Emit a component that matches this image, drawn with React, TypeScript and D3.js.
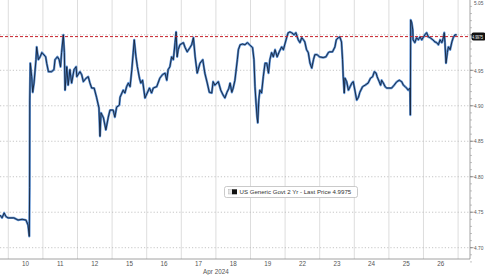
import React from "react";
import * as d3 from "d3";

// time in trading-day units (0 = start of Apr 10 session), yield in %
const times: number[] = [
  -0.24, -0.18, -0.12, -0.07, -0.01,
  0.05, 0.16, 0.28, 0.40, 0.51, 0.57, 0.607, 0.616, 0.621, 0.636, 0.676, 0.705, 0.743, 0.80, 0.82, 0.87, 0.92, 0.97,
  1.08, 1.11, 1.16, 1.25, 1.32, 1.35, 1.42, 1.47, 1.51, 1.54, 1.59, 1.62, 1.64, 1.69, 1.73, 1.78, 1.83, 1.90, 1.96, 1.98,
  2.07, 2.12, 2.17, 2.25, 2.31, 2.36, 2.41, 2.48, 2.55, 2.62, 2.65, 2.68, 2.75, 2.82, 2.89, 2.94,
  3.03, 3.08, 3.13, 3.21, 3.23, 3.32, 3.37, 3.42, 3.47, 3.52, 3.57, 3.61, 3.64, 3.69, 3.73, 3.79, 3.83, 3.88, 3.95,
  4.08, 4.14, 4.19, 4.29, 4.38, 4.46, 4.53, 4.58, 4.62, 4.67, 4.72, 4.77, 4.82, 4.85, 4.88, 4.91, 4.96,
  5.06, 5.11, 5.17, 5.25, 5.30, 5.35, 5.40, 5.46, 5.54, 5.62, 5.68, 5.75, 5.81, 5.88, 5.92, 5.97,
  6.07, 6.14, 6.21, 6.26, 6.32, 6.37, 6.41, 6.46, 6.50, 6.55, 6.62, 6.65, 6.70, 6.77, 6.84, 6.91, 6.97,
  7.06, 7.10, 7.13, 7.16, 7.19, 7.21, 7.24, 7.27, 7.32, 7.37, 7.42, 7.47, 7.52, 7.56, 7.61, 7.66, 7.71, 7.77, 7.83, 7.90, 7.95,
  8.05, 8.09, 8.14, 8.19, 8.26, 8.31, 8.38, 8.43, 8.48, 8.53, 8.57, 8.62, 8.67, 8.72, 8.77, 8.82, 8.86, 8.93, 8.99,
  9.10, 9.18, 9.25, 9.29, 9.37, 9.44, 9.48, 9.54, 9.58, 9.63, 9.66, 9.68, 9.71, 9.73, 9.78, 9.83, 9.88, 9.93, 9.97,
  10.07, 10.12, 10.16, 10.24, 10.31, 10.40, 10.47, 10.53, 10.58, 10.63, 10.66, 10.72, 10.76, 10.79, 10.84, 10.89, 10.94,
  11.08, 11.15, 11.23, 11.30, 11.37, 11.42, 11.47, 11.51, 11.56, 11.61, 11.62, 11.63, 11.66, 11.69, 11.70, 11.75, 11.80, 11.85, 11.90, 11.95,
  12.04, 12.09, 12.14, 12.19, 12.27, 12.33, 12.38, 12.43, 12.48, 12.53, 12.58, 12.60, 12.62, 12.65, 12.69, 12.72, 12.77, 12.82, 12.86, 12.91, 12.96,
];

const yields: number[] = [
  4.746, 4.742, 4.749, 4.744, 4.742,
  4.742, 4.742, 4.739, 4.740, 4.739, 4.732, 4.716, 4.785, 4.908, 4.960, 4.941, 4.919, 4.932, 4.965, 4.983, 4.965, 4.969, 4.975,
  4.969, 4.960, 4.948, 4.948, 4.951, 4.965, 4.969, 4.965, 4.955, 4.975, 5.000, 4.975, 4.922, 4.955, 4.929, 4.951, 4.932, 4.951, 4.955, 4.941,
  4.948, 4.944, 4.934, 4.939, 4.941, 4.932, 4.925, 4.925, 4.912, 4.897, 4.857, 4.890, 4.883, 4.866, 4.884, 4.894,
  4.894, 4.884, 4.898, 4.901, 4.912, 4.922, 4.918, 4.927, 4.932, 4.927, 4.951, 4.975, 4.993, 4.969, 4.955, 4.939, 4.932, 4.936, 4.911,
  4.925, 4.918, 4.925, 4.927, 4.939, 4.944, 4.946, 4.936, 4.951, 4.955, 4.969, 4.965, 4.989, 5.004, 4.969, 4.979, 4.986,
  4.989, 4.982, 4.976, 4.982, 4.986, 4.996, 4.969, 4.946, 4.960, 4.965, 4.946, 4.932, 4.919, 4.918, 4.934, 4.929,
  4.934, 4.922, 4.915, 4.911, 4.919, 4.924, 4.932, 4.919, 4.925, 4.936, 4.965, 4.979, 4.986, 4.987, 4.986, 4.989, 4.986,
  4.982, 4.965, 4.927, 4.904, 4.884, 4.876, 4.908, 4.922, 4.918, 4.941, 4.960, 4.960, 4.946, 4.965, 4.975, 4.969, 4.979, 4.969, 4.976, 4.983, 4.979,
  4.997, 5.003, 5.004, 5.003, 5.000, 5.003, 4.993, 4.989, 4.996, 4.993, 4.990, 4.979, 4.975, 4.960, 4.953, 4.965, 4.972, 4.972, 4.969,
  4.968, 4.969, 4.975, 4.976, 4.976, 4.983, 4.993, 4.996, 4.997, 4.990, 4.965, 4.941, 4.918, 4.939, 4.934, 4.922, 4.927, 4.932, 4.934,
  4.908, 4.912, 4.919, 4.927, 4.929, 4.932, 4.939, 4.941, 4.948, 4.946, 4.941, 4.934, 4.929, 4.936, 4.932, 4.927, 4.925,
  4.925, 4.929, 4.934, 4.936, 4.934, 4.929, 4.927, 4.925, 4.922, 4.925, 4.887, 5.021, 5.017, 5.007, 4.993, 4.989, 4.996, 4.993, 4.997, 4.993,
  5.000, 5.003, 4.997, 4.996, 4.993, 4.990, 4.989, 4.986, 4.993, 4.989, 4.997, 5.003, 4.989, 4.960, 4.975, 4.983, 4.979, 4.990, 4.996, 5.000, 5.000,
];

const dayLabels: string[] = ["10", "11", "12", "15", "16", "17", "18", "19", "22", "23", "24", "25", "26"];
const yTickValues: number[] = [4.7, 4.75, 4.8, 4.85, 4.9, 4.95, 5.0, 5.05];
const lastPrice = 4.9975;
const monthLabel = "Apr 2024";
const legendText = "US Generic Govt 2 Yr - Last Price 4.9975";

const W = 485;
const H = 275;
const plotRight = 470;
const plotBottom = 259;
const font = "'Liberation Sans', Arial, sans-serif";

export default function App() {
  const x = d3.scaleLinear().domain([-0.24, 13.344]).range([0, plotRight]);
  const y = d3.scaleLinear().domain([4.70, 4.95]).range([247.7, 70.3]);

  const pts: [number, number][] = times.map((t, i) => [t, yields[i]]);
  const line = d3
    .line<[number, number]>()
    .x((d) => x(d[0]))
    .y((d) => y(d[1]));
  const path = line(pts) || "";

  const minorTicks = d3.range(4.68, 5.06, 0.01);
  const boundaries = d3.range(0, dayLabels.length + 1);
  const tagY = y(lastPrice);

  return (
    <svg
      width={W}
      height={H}
      style={{ position: "absolute", left: 0, top: 0, background: "#fff" }}
      fontFamily={font}
    >
      {/* vertical day gridlines */}
      {boundaries.map((b) => (
        <line key={"v" + b} x1={x(b)} x2={x(b)} y1={0} y2={plotBottom} stroke="#d4d4d4" strokeWidth={0.8} />
      ))}
      {/* horizontal dotted gridlines */}
      {yTickValues.map((v) => (
        <line
          key={"h" + v}
          x1={0}
          x2={plotRight}
          y1={y(v)}
          y2={y(v)}
          stroke="#b8b8b8"
          strokeWidth={0.8}
          strokeDasharray="1.2,2"
        />
      ))}
      {/* series */}
      <path d={path} fill="none" stroke="#5a8fd2" strokeWidth={2.3} strokeLinejoin="round" />
      <path d={path} fill="none" stroke="#14233a" strokeWidth={0.9} strokeLinejoin="round" />
      {/* last price line */}
      <line
        x1={0}
        x2={plotRight}
        y1={tagY}
        y2={tagY}
        stroke="#c8202a"
        strokeWidth={1}
        strokeDasharray="3,2"
      />
      {/* axes */}
      <line x1={plotRight} x2={plotRight} y1={0} y2={plotBottom} stroke="#8a8a8a" strokeWidth={0.8} />
      <line x1={0} x2={plotRight} y1={plotBottom} y2={plotBottom} stroke="#8a8a8a" strokeWidth={0.8} />
      {minorTicks.map((v, i) => (
        <line key={"m" + i} x1={plotRight} x2={plotRight + 2} y1={y(v)} y2={y(v)} stroke="#9a9a9a" strokeWidth={0.6} />
      ))}
      {yTickValues.map((v) => (
        <g key={"t" + v}>
          <line x1={plotRight} x2={plotRight + 3.5} y1={y(v)} y2={y(v)} stroke="#777" strokeWidth={0.8} />
          {Math.abs(v - lastPrice) > 0.01 && (
            <text
              x={plotRight + 4}
              y={Math.max(y(v) + 2.2, 5)}
              fontSize={6}
              fill="#555"
              textLength={9.3}
              lengthAdjust="spacingAndGlyphs"
            >
              {v.toFixed(2)}
            </text>
          )}
        </g>
      ))}
      {/* last price tag */}
      <rect x={plotRight + 1.5} y={tagY - 4} width={14} height={8} rx={2} fill="#111" />
      <text
        x={plotRight + 2.2}
        y={tagY + 2}
        fontSize={5.6}
        fill="#fff"
        textLength={10.8}
        lengthAdjust="spacingAndGlyphs"
      >
        {lastPrice.toFixed(4)}
      </text>
      {/* x labels */}
      {dayLabels.map((d, i) => (
        <text key={"d" + d} x={x(i + 0.5)} y={266} fontSize={6.3} fill="#555" textAnchor="middle">
          {d}
        </text>
      ))}
      <text x={x(6)} y={273.5} fontSize={6.3} fill="#555" textAnchor="middle">
        {monthLabel}
      </text>
      {/* legend */}
      <rect x={224.5} y={186.5} width={133} height={11} rx={2} fill="#fff" stroke="#bdbdbd" strokeWidth={0.8} />
      <rect x={228.5} y={189.5} width={4} height={4.5} fill="#e6e6e6" stroke="#aaa" strokeWidth={0.4} />
      <rect x={232} y={189.3} width={5} height={5} fill="#111" />
      <text x={239.5} y={194.3} fontSize={6.1} fill="#333">
        {legendText}
      </text>
    </svg>
  );
}
